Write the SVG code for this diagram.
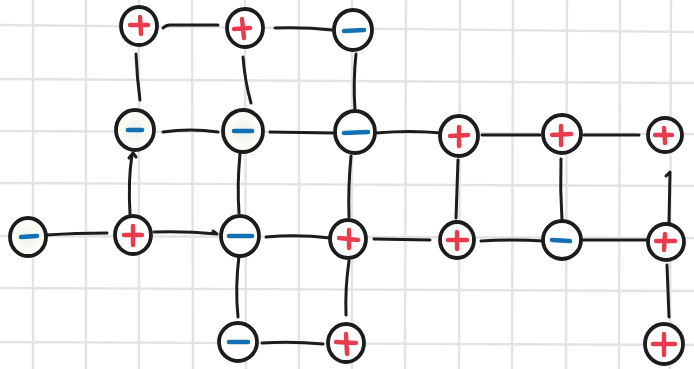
<svg xmlns="http://www.w3.org/2000/svg" width="694" height="369" viewBox="0 0 694 369">
  <style>
    .grid line { stroke: #e3e3e3; stroke-width: 2.4; }
    .ring { fill: #ffffff; stroke: #1c1c1c; stroke-width: 3.8; }
    .glow { fill: url(#glow); }
    .plus { stroke: #ea3b4c; stroke-width: 4.4; stroke-linecap: round; fill: none; }
    .minus { stroke: #1470b4; stroke-width: 4.6; stroke-linecap: round; fill: none; }
    .edges path { stroke: #1c1c1c; stroke-width: 3; stroke-linecap: round; stroke-linejoin: round; fill: none; }
  </style>
  <defs>
    <radialGradient id="glow" cx="0.5" cy="0.5" r="0.5">
      <stop offset="0" stop-color="#e2f0f9"/>
      <stop offset="0.55" stop-color="#fbfaf0"/>
      <stop offset="1" stop-color="#ffffff"/>
    </radialGradient>
  </defs>
  <rect width="694" height="369" fill="#ffffff"/>

  <!-- squared paper -->
  <g class="grid">
    <line x1="33" y1="0" x2="33" y2="369"/>
    <line x1="86" y1="0" x2="86" y2="369"/>
    <line x1="139" y1="0" x2="139" y2="369"/>
    <line x1="192" y1="0" x2="193" y2="369"/>
    <line x1="245" y1="0" x2="246" y2="369"/>
    <line x1="299" y1="0" x2="299" y2="369"/>
    <line x1="352" y1="0" x2="352" y2="369"/>
    <line x1="406" y1="0" x2="405" y2="369"/>
    <line x1="460" y1="0" x2="459" y2="369"/>
    <line x1="513" y1="0" x2="512" y2="369"/>
    <line x1="567" y1="0" x2="566" y2="369"/>
    <line x1="620" y1="0" x2="619" y2="369"/>
    <line x1="671" y1="0" x2="670" y2="369"/>
    <line x1="0" y1="25" x2="694" y2="32"/>
    <line x1="0" y1="79" x2="694" y2="83"/>
    <line x1="0" y1="131" x2="694" y2="134"/>
    <line x1="0" y1="183" x2="694" y2="186"/>
    <line x1="0" y1="236" x2="694" y2="238"/>
    <line x1="0" y1="288" x2="694" y2="291"/>
    <line x1="0" y1="342" x2="694" y2="345"/>
  </g>

  <!-- connectors -->
  <g class="edges">
    <path d="M163,28 Q166,25 170,25 L218,25"/>
    <path d="M275,28 Q305,27 332,30"/>
    <path d="M136,54 Q137,78 140,100"/>
    <path d="M243,57 Q245,82 251,103"/>
    <path d="M356,54 Q353,82 355,110"/>
    <path d="M163,132 Q190,128 218,132"/>
    <path d="M270,132 L333,133"/>
    <path d="M376,133 Q410,130 441,133"/>
    <path d="M482,135 L540,135"/>
    <path d="M584,135 L639,135"/>
    <path d="M130,214 Q128,180 132,155 M129,158 L133,153 L136,157"/>
    <path d="M240,154 Q237,185 239,213"/>
    <path d="M351,156 Q348,188 349,217"/>
    <path d="M458,160 Q457,190 456,218"/>
    <path d="M561,159 Q560,190 562,220"/>
    <path d="M669,223 L670,172 L666,176"/>
    <path d="M47,235 Q75,233 107,233"/>
    <path d="M154,232 Q185,231 217,234 L213,231"/>
    <path d="M266,237 Q298,234 330,238"/>
    <path d="M374,239 L430,240"/>
    <path d="M481,241 Q512,239 544,241"/>
    <path d="M583,240 L648,240"/>
    <path d="M239,256 Q235,288 238,317"/>
    <path d="M349,261 Q345,288 346,315"/>
    <path d="M667,265 L669,317"/>
    <path d="M262,343 Q292,341 323,344"/>
  </g>

  <!-- charges -->
  <g id="n-r1-a"><ellipse class="ring" cx="139" cy="26" rx="18" ry="19"/><path class="plus" d="M130,25 L148,25 M140,17 L141,34"/></g>
  <g id="n-r1-b"><ellipse class="ring" cx="245" cy="28" rx="18" ry="19"/><path class="plus" d="M234,29 L250,28 M242,19 L244,38"/></g>
  <g id="n-r1-c"><ellipse class="ring" cx="353" cy="30" rx="19" ry="20"/><path class="minus" d="M344,31 L364,30"/></g>

  <g id="n-r2-a"><ellipse class="ring glow" cx="135" cy="130" rx="19" ry="20"/><path class="minus" d="M128,130 L142,130"/></g>
  <g id="n-r2-b"><ellipse class="ring glow" cx="243" cy="131" rx="20" ry="21"/><path class="minus" d="M234,131 L252,131"/></g>
  <g id="n-r2-c"><ellipse class="ring" cx="355" cy="132" rx="20" ry="21"/><path class="minus" d="M344,133 L368,132"/></g>
  <g id="n-r2-d"><ellipse class="ring" cx="459" cy="136" rx="19" ry="20"/><path class="plus" d="M450,136 L468,135 M459,127 L459,146"/></g>
  <g id="n-r2-e"><ellipse class="ring" cx="562" cy="134" rx="19" ry="19"/><path class="plus" d="M552,135 L571,134 M561,126 L561,145"/></g>
  <g id="n-r2-f"><ellipse class="ring" cx="665" cy="135" rx="17" ry="17"/><path class="plus" d="M655,135 L672,135 M664,128 L665,143"/></g>

  <g id="n-r3-a"><ellipse class="ring glow" cx="28" cy="237" rx="18" ry="19"/><path class="minus" d="M21,237 L37,236"/></g>
  <g id="n-r3-b"><ellipse class="ring" cx="133" cy="235" rx="18" ry="19"/><path class="plus" d="M124,235 L142,235 M133,226 L133,245"/></g>
  <g id="n-r3-c"><ellipse class="ring" cx="240" cy="236" rx="19" ry="20"/><path class="minus" d="M229,236 L252,236"/></g>
  <g id="n-r3-d"><ellipse class="ring" cx="348" cy="239" rx="18" ry="19"/><path class="plus" d="M339,238 L358,240 M349,230 L349,248"/></g>
  <g id="n-r3-e"><ellipse class="ring" cx="457" cy="240" rx="17" ry="18"/><path class="plus" d="M448,240 L467,240 M457,232 L457,249"/></g>
  <g id="n-r3-f"><ellipse class="ring" cx="562" cy="240" rx="19" ry="19"/><path class="minus" d="M552,240 L570,241"/></g>
  <g id="n-r3-g"><ellipse class="ring" cx="666" cy="242" rx="18" ry="18"/><path class="plus" d="M656,241 L675,241 M665,234 L664,250"/></g>

  <g id="n-r4-a"><ellipse class="ring" cx="238" cy="342" rx="19" ry="19"/><path class="minus" d="M229,342 L248,342"/></g>
  <g id="n-r4-b"><ellipse class="ring" cx="346" cy="343" rx="18" ry="19"/><path class="plus" d="M336,342 L356,343 M346,334 L347,354"/></g>
  <g id="n-r4-c"><ellipse class="ring" cx="664" cy="344" rx="19" ry="20"/><path class="plus" d="M653,344 L675,344 M664,334 L664,355"/></g>
</svg>
